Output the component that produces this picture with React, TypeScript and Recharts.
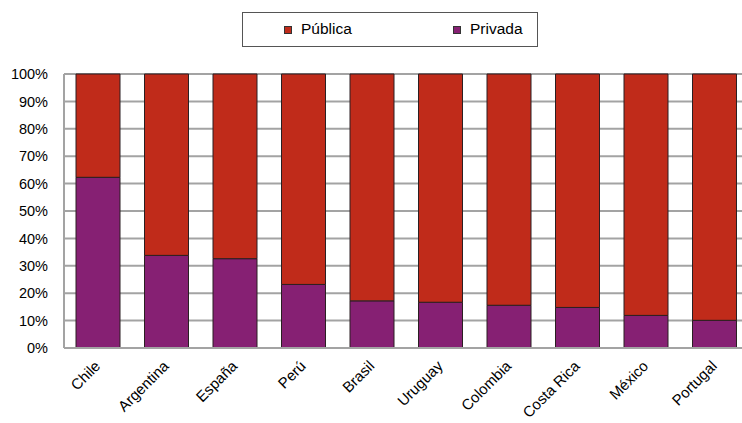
import { BarChart, Bar, XAxis, YAxis, CartesianGrid } from 'recharts'

const paises = ['Chile', 'Argentina', 'España', 'Perú', 'Brasil', 'Uruguay', 'Colombia', 'Costa Rica', 'México', 'Portugal']
const privada = [62.3, 33.8, 32.6, 23.2, 17.2, 16.7, 15.6, 14.8, 11.9, 10.1]
const publica = [37.7, 66.2, 67.4, 76.8, 82.8, 83.3, 84.4, 85.2, 88.1, 89.9]
const yTicks = [0, 10, 20, 30, 40, 50, 60, 70, 80, 90, 100]

const data = paises.map((pais, i) => ({ pais, privada: privada[i], publica: publica[i] }))

const FONT = '"Liberation Sans", Arial, sans-serif'
const PUBLICA = '#c02b1a'
const PRIVADA = '#862073'

const XTick = ({ x, y, payload }: any) => (
  <g transform={`translate(${x + 3},${y + 19})`}>
    <text textAnchor="end" transform="rotate(-45)" fontSize={15} fill="#000" fontFamily={FONT}>
      {payload.value}
    </text>
  </g>
)

// the original plot runs a little past the right edge, so the chart is drawn wider and clipped
export default function App() {
  return (
    <div style={{ position: 'fixed', left: 0, top: 0, width: 742, height: 423, overflow: 'hidden', background: '#fff', fontFamily: FONT }}>
      <BarChart width={750} height={423} data={data} margin={{ top: 74, right: 1, left: 0, bottom: 0 }} barSize={44}>
        <CartesianGrid vertical={false} stroke="#a3a3a3" strokeWidth={2} />
        <XAxis
          dataKey="pais"
          height={75}
          interval={0}
          tickLine={false}
          tickSize={0}
          tickMargin={0}
          axisLine={{ stroke: '#a3a3a3', strokeWidth: 2 }}
          tick={<XTick />}
        />
        <YAxis
          width={64}
          domain={[0, 100]}
          ticks={yTicks}
          tickFormatter={(v) => `${v}%`}
          tickLine={false}
          tickSize={0}
          tickMargin={16}
          axisLine={{ stroke: '#a3a3a3', strokeWidth: 2 }}
          tick={{ fontSize: 14.5, fill: '#000', fontFamily: FONT }}
        />
        <Bar dataKey="privada" stackId="a" fill={PRIVADA} stroke="#2a1f22" strokeWidth={1} isAnimationActive={false} />
        <Bar dataKey="publica" stackId="a" fill={PUBLICA} stroke="#2a1f22" strokeWidth={1} isAnimationActive={false} />
      </BarChart>
      <div
        style={{
          position: 'absolute',
          left: 242,
          top: 12,
          width: 294,
          height: 33,
          border: '1px solid #555',
          fontSize: 15.5,
          color: '#000',
        }}
      >
        <div style={{ position: 'absolute', left: 41, top: 13, width: 8, height: 8, background: PUBLICA, border: '1px solid #333', boxSizing: 'border-box' }} />
        <span style={{ position: 'absolute', left: 58, top: 7 }}>Pública</span>
        <div style={{ position: 'absolute', left: 210, top: 13, width: 8, height: 8, background: PRIVADA, border: '1px solid #333', boxSizing: 'border-box' }} />
        <span style={{ position: 'absolute', left: 227, top: 7 }}>Privada</span>
      </div>
    </div>
  )
}
